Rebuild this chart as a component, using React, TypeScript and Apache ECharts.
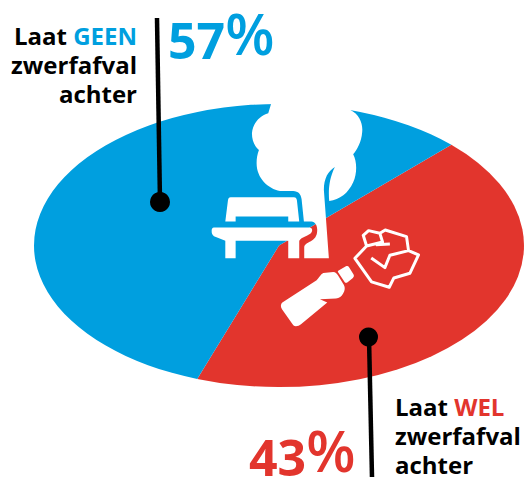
import React, { useEffect, useRef } from "react";
import * as echarts from "echarts";

const categories = ["Laat WEL zwerfafval achter", "Laat GEEN zwerfafval achter"];
const shares = [43, 57];
const colors = ["#e2352d", "#009fdf"];

const FONT = '"Open Sans", sans-serif';

const treePath =
  "M205 55 L216 18 L452 18 L452 45 C478 58 490 85 487 112 C485 140 472 165 460 178 C472 200 472 235 460 262 C445 295 420 314 388 318 C385 285 388 250 405 216 C385 228 372 250 372 285 L387 490 L313 490 L313 456 C316 446 325 444 335 438 C348 430 352 420 352 405 C352 390 345 381 335 380 L312 380 L305 312 C302 296 295 289 280 288 L240 288 C205 282 170 250 170 205 C170 190 172 178 177 165 C162 152 156 135 156 115 C158 85 180 62 205 55 Z";
const benchPath =
  "M92 307 L282 307 C288 307 290 310 291 316 L298 380 L265 380 L265 365 L107 365 L107 380 L76 380 L84 316 C85 310 87 307 92 307 Z " +
  "M42 398 L328 398 C336 398 338 404 336 410 C334 416 330 418 322 422 L305 430 C300 434 298 436 298 440 L298 490 L265 490 L265 438 L107 438 L107 490 L76 490 L76 438 L42 424 C36 420 35 415 35 408 C35 402 37 398 42 398 Z";
const bottlePath =
  "M37 248 L140 181 C147 173 152 163 160 159 L190 156 C197 156 200 160 204 166 L222 195 C226 202 225 212 220 220 C215 230 208 235 198 236 L150 238 L172 248 L94 312 C85 319 76 321 70 316 L36 268 C31 260 32 253 37 248 Z " +
  "M206 152 L228 139 C232 137 235 138 237 141 L251 164 C253 168 252 172 248 175 L233 187 C229 190 226 189 224 186 L205 158 C203 155 203 154 206 152 Z";
const paperPath =
  "M255 115 L290 78 L280 46 L296 32 L330 40 L346 30 L410 50 L416 92 L446 105 L420 160 L372 174 L358 202 L305 186 Z " +
  "M290 78 L338 66 L330 40 M318 74 L360 72 " +
  "M304 114 L345 143 L360 106 L416 92";

echarts.graphic.registerShape("treeIcon", echarts.graphic.extendPath(treePath, {}));
echarts.graphic.registerShape("benchIcon", echarts.graphic.extendPath(benchPath, {}));
echarts.graphic.registerShape("bottleIcon", echarts.graphic.extendPath(bottlePath, {}));
echarts.graphic.registerShape("paperIcon", echarts.graphic.extendPath(paperPath, {}));

export default function App() {
  const ref = useRef<HTMLDivElement>(null);
  useEffect(() => {
    document.body.style.margin = "0";
    const chart = echarts.init(ref.current!, null, { renderer: "svg" });
    const total = shares.reduce((a, b) => a + b, 0);
    const cx = 279;
    const cy = 245.5;
    const rx = 245;
    const ry = 141.5;
    const start = (-45.3 * Math.PI) / 180;
    const labelBase = { fontFamily: FONT, fontWeight: 700, fontSize: 24, fill: "#000" };
    const icon = (type: string, x: number, y: number, extra: any = {}) => ({
      type,
      x,
      y,
      scaleX: 1 / 3,
      scaleY: 1 / 3,
      z: 20,
      style: { fill: "#fff", ...extra },
    });
    const bigRich = (c: string) => ({
      d: { fontFamily: FONT, fontWeight: 700, fontSize: 50, lineHeight: 72, fill: c },
      p: { fontFamily: FONT, fontWeight: 600, fontSize: 57, lineHeight: 57, fill: c, verticalAlign: "top" },
    });
    chart.setOption({
      animation: false,
      backgroundColor: "#fff",
      series: [
        {
          type: "custom",
          coordinateSystem: "none",
          silent: true,
          z: 1,
          data: shares.map((v, i) => ({ name: categories[i], value: v })),
          renderItem: (params: any, api: any) => {
            const before = shares.slice(0, params.dataIndex).reduce((a, b) => a + b, 0);
            const a0 = start + (before / total) * Math.PI * 2;
            const a1 = a0 + (api.value(0) / total) * Math.PI * 2;
            return {
              type: "sector",
              x: cx,
              y: cy,
              scaleY: ry / rx,
              shape: { cx: 0, cy: 0, r0: 0, r: rx, startAngle: a0, endAngle: a1, clockwise: true },
              style: { fill: colors[params.dataIndex] },
            };
          },
        },
      ],
      graphic: {
        elements: [
          icon("treeIcon", 200, 95),
          icon("benchIcon", 200, 95),
          icon("bottleIcon", 270, 220),
          icon("paperIcon", 270, 220, { fill: "none", stroke: "#fff", lineWidth: 9, lineJoin: "round" }),
          { type: "line", z: 30, shape: { x1: 157, y1: 18, x2: 160, y2: 202 }, style: { stroke: "#000", lineWidth: 4.5 } },
          { type: "circle", z: 30, shape: { cx: 160, cy: 202, r: 10 }, style: { fill: "#000" } },
          { type: "line", z: 30, shape: { x1: 369, y1: 337, x2: 372, y2: 477 }, style: { stroke: "#000", lineWidth: 4.5 } },
          { type: "circle", z: 30, shape: { cx: 368.5, cy: 337, r: 9.5 }, style: { fill: "#000" } },
          {
            type: "text", z: 30, x: 137, y: 21,
            style: {
              ...labelBase, text: "{k|Laat }{c|GEEN}\n{k|zwerfafval}\n{k|achter}", align: "right", verticalAlign: "top",
              rich: {
                k: { ...labelBase, lineHeight: 29, fill: "#000" },
                c: { ...labelBase, lineHeight: 29, fill: colors[1] },
              },
            },
          },
          {
            type: "text", z: 30, x: 395, y: 392,
            style: {
              ...labelBase, text: "{k|Laat }{c|WEL}\n{k|zwerfafval}\n{k|achter}", align: "left", verticalAlign: "top",
              rich: {
                k: { ...labelBase, lineHeight: 29, fill: "#000" },
                c: { ...labelBase, lineHeight: 29, fill: colors[0] },
              },
            },
          },
          {
            type: "text", z: 30, x: 168, y: 4,
            style: { text: `{d|${shares[1]}}{p|%}`, align: "left", verticalAlign: "top", rich: bigRich(colors[1]) },
          },
          {
            type: "text", z: 30, x: 249, y: 421,
            style: { text: `{d|${shares[0]}}{p|%}`, align: "left", verticalAlign: "top", rich: bigRich(colors[0]) },
          },
        ],
      },
    });
    return () => chart.dispose();
  }, []);
  return <div ref={ref} style={{ width: 525, height: 477 }} />;
}
